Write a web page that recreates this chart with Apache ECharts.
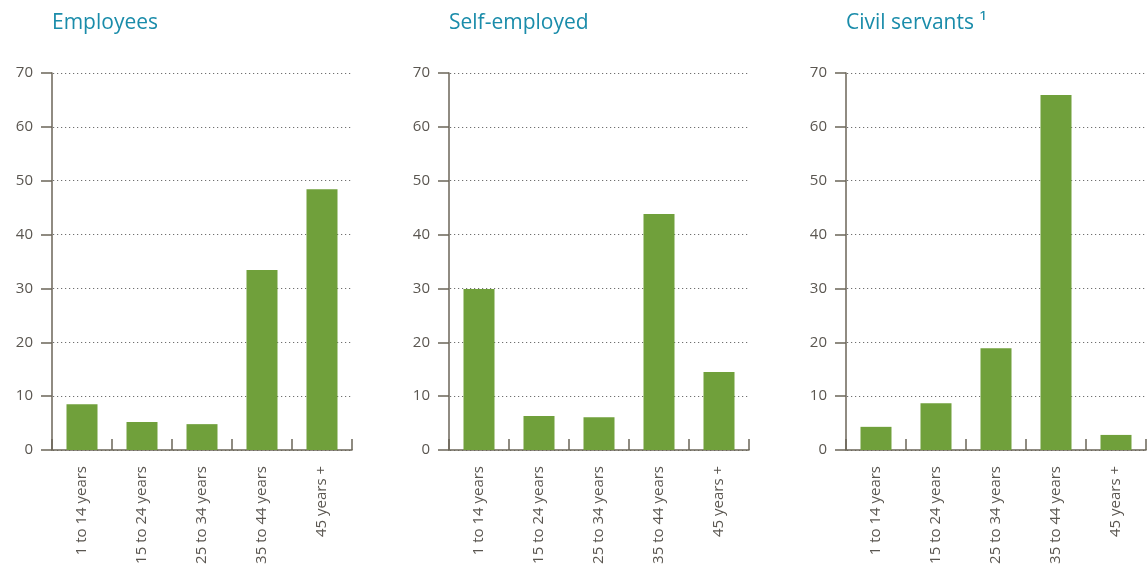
<!DOCTYPE html>
<html>
<head>
<meta charset="utf-8">
<script src="https://cdn.jsdelivr.net/npm/echarts@6/dist/echarts.min.js"></script>
<style>
  html, body { margin: 0; padding: 0; background: #fff; }
  #chart { width: 1148px; height: 565px; }
</style>
</head>
<body>
<div id="chart"></div>
<script>
  var categories = ['1 to 14 years', '15 to 24 years', '25 to 34 years', '35 to 44 years', '45 years +'];
  var panelTitles = ['Employees', 'Self-employed', 'Civil servants \u00b9'];
  var employees = [8.5, 5.2, 4.8, 33.4, 48.4];
  var selfEmployed = [29.9, 6.3, 6.1, 43.8, 14.5];
  var civilServants = [4.3, 8.7, 18.9, 65.9, 2.8];
  var yTicks = [0, 10, 20, 30, 40, 50, 60, 70];

  var panelData = [employees, selfEmployed, civilServants];
  var gridLefts = [52, 449, 846];

  var axisColor = '#6b6558';
  var textColor = '#5a5650';
  var font = '"Open Sans", "Noto Sans", sans-serif';

  var chart = echarts.init(document.getElementById('chart'));

  var grids = [], xAxes = [], yAxes = [], series = [], titles = [];
  for (var i = 0; i < 3; i++) {
    grids.push({ left: gridLefts[i], top: 73, width: 300, height: 377, outerBoundsMode: 'none', containLabel: false });
    titles.push({
      text: panelTitles[i],
      left: gridLefts[i] - 5,
      top: 8,
      textStyle: { color: '#1a8caa', fontSize: 21, fontWeight: 'normal', fontFamily: font }
    });
    xAxes.push({
      type: 'category',
      gridIndex: i,
      data: categories,
      axisLine: { lineStyle: { color: axisColor, width: 1.5 } },
      axisTick: { show: true, inside: true, length: 11, lineStyle: { color: axisColor, width: 1.5 } },
      axisLabel: { rotate: 90, margin: 16, color: textColor, fontSize: 15, fontFamily: font }
    });
    yAxes.push({
      type: 'value',
      gridIndex: i,
      min: yTicks[0],
      max: yTicks[yTicks.length - 1],
      interval: 10,
      axisLine: { show: true, lineStyle: { color: axisColor, width: 1.5 } },
      axisTick: { show: true, length: 11, lineStyle: { color: axisColor, width: 1.5 } },
      axisLabel: { margin: 19, color: textColor, fontSize: 15, fontFamily: font },
      splitLine: { show: true, lineStyle: { type: [1.2, 2.8], dashOffset: -5, color: '#6f6f6f', width: 1.2 } }
    });
    series.push({
      type: 'bar',
      xAxisIndex: i,
      yAxisIndex: i,
      data: panelData[i],
      barWidth: 31,
      itemStyle: { color: '#70a03b' },
      silent: true
    });
  }

  chart.setOption({
    animation: false,
    title: titles,
    grid: grids,
    xAxis: xAxes,
    yAxis: yAxes,
    series: series
  });
</script>
</body>
</html>
